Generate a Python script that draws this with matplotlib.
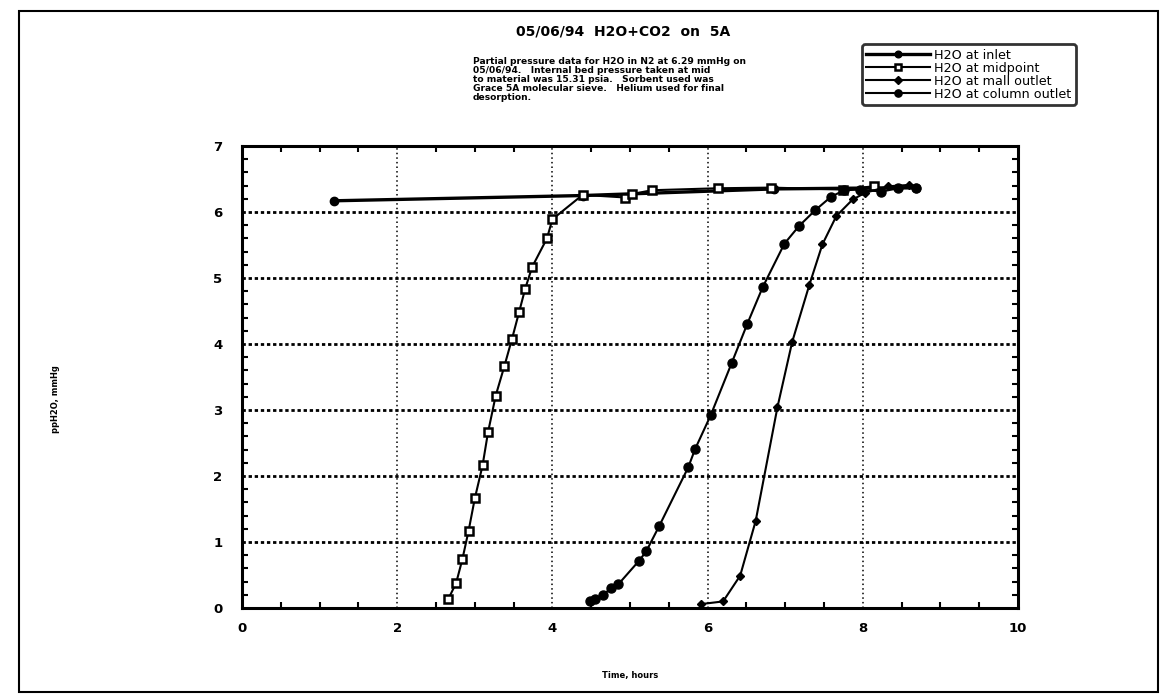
import matplotlib
matplotlib.use("Agg")
import matplotlib.pyplot as plt
from matplotlib.patches import Rectangle
from matplotlib.ticker import MultipleLocator

# ---- data ----
inlet_x = [1.18, 4.40, 6.85, 8.69]
inlet_y = [6.17, 6.25, 6.35, 6.37]

mid_x = [2.66, 2.76, 2.84, 2.92, 3.00, 3.10, 3.17, 3.27, 3.38, 3.48, 3.57, 3.65,
         3.74, 3.93, 4.00, 4.39, 4.94, 5.02, 5.28, 6.13, 6.82, 7.75, 8.14]
mid_y = [0.14, 0.38, 0.74, 1.17, 1.66, 2.16, 2.66, 3.22, 3.66, 4.08, 4.48, 4.84,
         5.17, 5.60, 5.89, 6.26, 6.22, 6.27, 6.33, 6.36, 6.37, 6.34, 6.39]

mall_x = [5.92, 6.20, 6.42, 6.62, 6.90, 7.09, 7.31, 7.48, 7.66, 7.87, 8.03, 8.33, 8.59]
mall_y = [0.06, 0.10, 0.49, 1.32, 3.04, 4.03, 4.89, 5.51, 5.94, 6.19, 6.29, 6.39, 6.41]

col_x = [4.48, 4.55, 4.65, 4.76, 4.85, 5.12, 5.21, 5.38, 5.75, 5.84, 6.04, 6.31,
         6.51, 6.71, 6.99, 7.18, 7.39, 7.59, 7.76, 7.96, 8.24, 8.46, 8.69]
col_y = [0.10, 0.13, 0.20, 0.30, 0.36, 0.72, 0.86, 1.25, 2.13, 2.41, 2.92, 3.71,
         4.30, 4.86, 5.52, 5.79, 6.03, 6.23, 6.33, 6.34, 6.31, 6.36, 6.36]

labels = ["H2O at inlet", "H2O at midpoint", "H2O at mall outlet", "H2O at column outlet"]
title = "05/06/94  H2O+CO2  on  5A"
note = ("Partial pressure data for H2O in N2 at 6.29 mmHg on\n"
        "05/06/94.   Internal bed pressure taken at mid\n"
        "to material was 15.31 psia.   Sorbent used was\n"
        "Grace 5A molecular sieve.   Helium used for final\n"
        "desorption.")
xlabel = "Time, hours"
ylabel = "ppH2O, mmHg"

# ---- figure ----
fig = plt.figure(figsize=(11.76, 7.0), dpi=100)
ax = fig.add_axes([0.2058, 0.1314, 0.6598, 0.66])

ax.plot(inlet_x, inlet_y, color="black", lw=2.4, marker="o", ms=6,
        mfc="black", mec="black", label=labels[0], zorder=3)
ax.plot(mid_x, mid_y, color="black", lw=1.5, marker="s", ms=5.5,
        mfc="white", mec="black", mew=1.8, label=labels[1], zorder=4)
ax.plot(mall_x, mall_y, color="black", lw=1.5, marker="D", ms=4.5,
        mfc="black", mec="black", label=labels[2], zorder=4)
ax.plot(col_x, col_y, color="black", lw=1.5, marker="o", ms=6.5,
        mfc="black", mec="black", label=labels[3], zorder=4)

ax.set_xlim(0, 10)
ax.set_ylim(0, 7)
ax.xaxis.set_major_locator(MultipleLocator(2))
ax.xaxis.set_minor_locator(MultipleLocator(0.5))
ax.yaxis.set_major_locator(MultipleLocator(1))
ax.yaxis.set_minor_locator(MultipleLocator(0.2))
ax.tick_params(which="both", direction="in", top=True, right=True, width=1.5)
ax.tick_params(which="major", length=0, labelsize=9.5)
ax.tick_params(which="minor", length=4)
for lab in ax.get_xticklabels() + ax.get_yticklabels():
    lab.set_fontweight("bold")
ax.tick_params(axis="x", pad=10)
ax.tick_params(axis="y", pad=14)

ax.yaxis.grid(True, linestyle=(0, (1.2, 1.0)), color="black", lw=2.0)
ax.xaxis.grid(True, linestyle=(0, (1.0, 2.0)), color="black", lw=1.1)
for s in ax.spines.values():
    s.set_linewidth(2.2)

ax.set_xlabel(xlabel, fontsize=6, fontweight="bold", labelpad=26)
fig.text(0.047, 0.43, ylabel, rotation=90, fontsize=6, fontweight="bold",
         ha="center", va="center")

fig.text(0.53, 0.955, title, fontsize=10, fontweight="bold", ha="center", va="center")
fig.text(0.402, 0.918, note, fontsize=6.6, fontweight="bold", ha="left", va="top",
         linespacing=1.0)

leg = fig.legend(loc="upper left", bbox_to_anchor=(0.733, 0.937), fontsize=9.2,
                 frameon=True, fancybox=True, edgecolor="black", handlelength=5.0,
                 handletextpad=0.3, labelspacing=0.0, borderpad=0.35,
                 borderaxespad=0, markerscale=0.8)
leg.get_frame().set_linewidth(2.0)

# outer frame
fig.patches.append(Rectangle((0.016, 0.012), 0.969, 0.972, transform=fig.transFigure,
                             fill=False, edgecolor="black", lw=1.5))

fig.savefig("out.png", dpi=100)
